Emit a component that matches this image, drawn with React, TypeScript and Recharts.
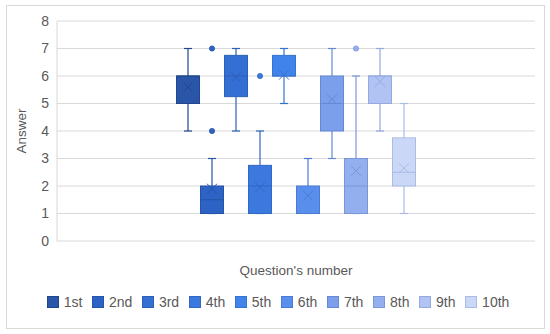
import React from "react";
import { ComposedChart, Bar, XAxis, YAxis, CartesianGrid, Legend } from "recharts";

const SERIES = ["1st", "2nd", "3rd", "4th", "5th", "6th", "7th", "8th", "9th", "10th"];
const MINS = [4, 1, 4, 1, 5, 1, 3, 1, 4, 1];
const Q1S = [5, 1, 5.25, 1, 6, 1, 4, 1, 5, 2];
const MEDIANS = [6, 1.5, 6, 2, 6, 1, 5, 2, 6, 2.5];
const Q3S = [6, 2, 6.75, 2.75, 6.75, 2, 6, 3, 6, 3.75];
const MAXS = [7, 3, 7, 4, 7, 3, 7, 6, 7, 5];
const MEANS = [5.6, 1.9, 5.95, 1.95, 6.05, 1.65, 5.15, 2.55, 5.8, 2.65];
const OUTLIERS: number[][] = [[], [4, 7], [], [6], [], [], [], [7], [], []];
const Y_TICKS = [0, 1, 2, 3, 4, 5, 6, 7, 8];

const FILLS = ["#2a56aa", "#2d63c4", "#346fd4", "#3b79df", "#4083ea", "#5a8eec", "#7b9fea", "#94afee", "#b0c3f3", "#cad7f6"];
const STROKES = ["#21468c", "#2553a8", "#2c5fb8", "#3068c4", "#3672d0", "#4a7cd6", "#6589d6", "#7a97da", "#93a9e0", "#a9bce6"];

const FONT = "'Liberation Sans', Arial, sans-serif";
const TEXT = "#595959";

const row: Record<string, number | string> = { cat: "" };
SERIES.forEach((_, i) => {
  row[`base${i}`] = Q1S[i];
  row[`box${i}`] = Q3S[i] - Q1S[i];
});
const data = [row];

// box is drawn from the bar, whiskers/median/mean/outliers use the bar's own scale
const boxShape = (i: number) => (props: any) => {
  const { x, y, width, height } = props;
  const k = height / (Q3S[i] - Q1S[i]);
  const py = (v: number) => y + (Q3S[i] - v) * k;
  const cx = x + width / 2;
  const cap = 4;
  const m = 5;
  const stroke = STROKES[i];
  return (
    <g>
      <line x1={cx} x2={cx} y1={py(MAXS[i])} y2={py(Q3S[i])} stroke={stroke} strokeWidth={1.2} />
      <line x1={cx} x2={cx} y1={py(Q1S[i])} y2={py(MINS[i])} stroke={stroke} strokeWidth={1.2} />
      <line x1={cx - cap} x2={cx + cap} y1={py(MAXS[i])} y2={py(MAXS[i])} stroke={stroke} strokeWidth={1.2} />
      <line x1={cx - cap} x2={cx + cap} y1={py(MINS[i])} y2={py(MINS[i])} stroke={stroke} strokeWidth={1.2} />
      <rect x={x} y={y} width={width} height={height} fill={FILLS[i]} stroke={stroke} strokeWidth={1} />
      <line x1={x} x2={x + width} y1={py(MEDIANS[i])} y2={py(MEDIANS[i])} stroke={stroke} strokeWidth={1} />
      <line x1={cx - m} x2={cx + m} y1={py(MEANS[i]) - m} y2={py(MEANS[i]) + m} stroke={stroke} strokeWidth={1} />
      <line x1={cx - m} x2={cx + m} y1={py(MEANS[i]) + m} y2={py(MEANS[i]) - m} stroke={stroke} strokeWidth={1} />
      {OUTLIERS[i].map((o, j) => (
        <circle key={j} cx={cx} cy={py(o)} r={2.6} fill={FILLS[i]} stroke={stroke} strokeWidth={0.8} />
      ))}
    </g>
  );
};

const LegendContent = () => (
  <div style={{ display: "flex", justifyContent: "center", height: 20, alignItems: "center", fontFamily: FONT, fontSize: 14, color: TEXT, width: 550, paddingLeft: 6, boxSizing: "border-box" }}>
    {SERIES.map((s, i) => (
      <div key={s} style={{ display: "flex", alignItems: "center", margin: "0 4.8px" }}>
        <span style={{ width: 10, height: 10, background: FILLS[i], border: `1px solid ${STROKES[i]}`, marginRight: 5, display: "inline-block" }} />
        <span>{s}</span>
      </div>
    ))}
  </div>
);

export default function App() {
  return (
    <div style={{ position: "absolute", left: 0, top: 0, width: 550, height: 334, background: "#fff" }}>
      <div style={{ position: "absolute", left: 6, top: 5, width: 537, height: 322, border: "1px solid #d9d9d9" }} />
      <div style={{ position: "absolute", left: 0, top: 0 }}>
        <ComposedChart
          width={550}
          height={334}
          data={data}
          margin={{ top: 21, right: 15, left: 0, bottom: 22 }}
          barCategoryGap="25%"
          barGap={1}
        >
          <CartesianGrid vertical={false} stroke="#d9d9d9" />
          <XAxis
            dataKey="cat"
            tick={false}
            tickLine={false}
            axisLine={false}
            height={51}
            label={{ value: "Question's number", position: "insideBottom", offset: 17, fill: TEXT, fontSize: 13.5, fontFamily: FONT }}
          />
          <YAxis
            width={57}
            domain={[0, 8]}
            ticks={Y_TICKS}
            interval={0}
            tickLine={false}
            axisLine={{ stroke: "#d9d9d9" }}
            tick={{ fill: TEXT, fontSize: 14, fontFamily: FONT }}
            label={{ value: "Answer", angle: -90, position: "insideLeft", offset: 21, fill: TEXT, fontSize: 13.5, fontFamily: FONT, style: { textAnchor: "middle" } }}
          />
          <Legend verticalAlign="bottom" wrapperStyle={{ left: 0, width: 550 }} content={<LegendContent />} />
          {SERIES.map((s, i) => [
            <Bar key={`b${i}`} dataKey={`base${i}`} stackId={`s${i}`} fill="transparent" legendType="none" isAnimationActive={false} />,
            <Bar key={`x${i}`} dataKey={`box${i}`} name={s} stackId={`s${i}`} fill={FILLS[i]} shape={boxShape(i)} isAnimationActive={false} />,
          ])}
        </ComposedChart>
      </div>
    </div>
  );
}
